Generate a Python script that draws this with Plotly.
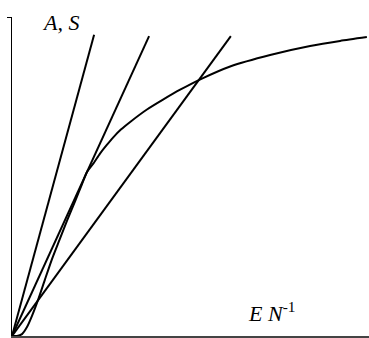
import plotly.graph_objects as go

# Curve (A/S vs EN^-1) (axes 0..10)
curve_x = [0, 0.14, 0.28, 0.42, 0.56, 0.73, 0.92, 1.11, 1.33, 1.55, 1.78, 1.95, 2.10,
           2.30, 2.46, 2.65, 2.83, 3.05, 3.31, 3.78, 4.23, 4.71, 5.32, 6.11, 7.23, 8.35,
           9.19, 9.94]
curve_y = [0, 0, 0.06, 0.28, 0.63, 1.13, 1.76, 2.38, 3.01, 3.64, 4.26, 4.73, 5.14,
           5.44, 5.71, 5.98, 6.22, 6.47, 6.71, 7.10, 7.41, 7.72, 8.07, 8.45, 8.81, 9.09,
           9.25, 9.37]

# Straight rays from the origin: end points
ray_end_x = [2.30, 3.84, 6.13]
ray_end_y = [9.44, 9.40, 9.40]

fig = go.Figure()
for ex, ey in zip(ray_end_x, ray_end_y):
    fig.add_trace(go.Scatter(x=[0, ex], y=[0, ey], mode="lines",
                             line=dict(color="black", width=2), hoverinfo="skip",
                             cliponaxis=False))
fig.add_trace(go.Scatter(x=curve_x, y=curve_y, mode="lines",
                         line=dict(color="black", width=2, shape="spline", smoothing=0.6),
                         hoverinfo="skip", cliponaxis=False))

serif = "Liberation Serif, serif"
fig.add_annotation(x=0.078, y=0.984, xref="paper", yref="paper",
                   text="<i>A, S</i>",
                   showarrow=False, xanchor="left", yanchor="middle",
                   font=dict(family=serif, size=22, color="black"))
fig.add_annotation(x=0.655, y=0.075, xref="paper", yref="paper",
                   text="<i>E N</i><sup>-1</sup>",
                   showarrow=False, xanchor="left", yanchor="middle",
                   font=dict(family=serif, size=22, color="black"))

fig.update_layout(
    template="none",
    width=369, height=338,
    margin=dict(l=12, r=0, t=17, b=2, pad=0, autoexpand=False),
    paper_bgcolor="white", plot_bgcolor="white",
    showlegend=False,
    font=dict(family=serif),
    xaxis=dict(range=[0, 10], showgrid=False, zeroline=False, showticklabels=False,
               ticks="", showline=True, linecolor="#444444", linewidth=2,
               fixedrange=True, automargin=False),
    yaxis=dict(range=[0, 10], showgrid=False, zeroline=False, showticklabels=False,
               tickvals=[10], ticks="outside", ticklen=4, tickcolor="black", tickwidth=1,
               showline=True, linecolor="black", linewidth=1,
               fixedrange=True, automargin=False),
)
fig.write_html("out.html", config=dict(displayModeBar=False),
               post_script="document.body.style.margin='0px';document.body.style.padding='0px';")
